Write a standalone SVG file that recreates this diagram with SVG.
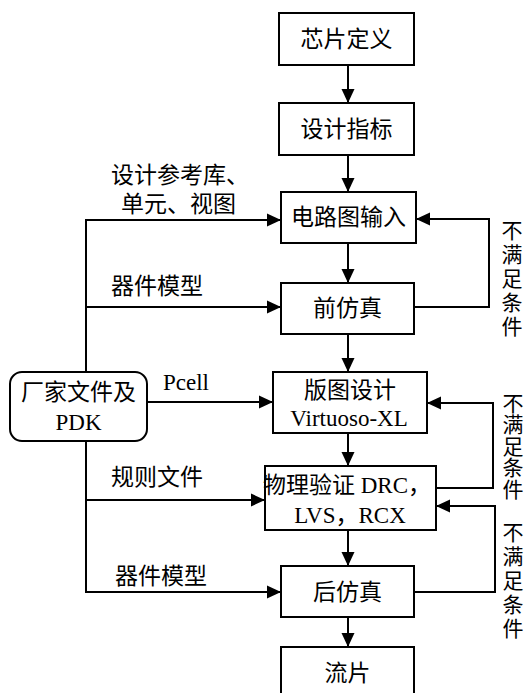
<svg xmlns="http://www.w3.org/2000/svg" width="529" height="693" viewBox="0 0 529 693">
<style>
.box{fill:#fff;stroke:#000;stroke-width:2}
.t{font-family:"Liberation Serif","Noto Sans CJK SC",serif;font-size:23px;fill:#000;text-anchor:middle;dominant-baseline:central}
.l{font-family:"Liberation Serif","Noto Sans CJK SC",serif;font-size:23px;fill:#000;dominant-baseline:central}
.v{font-family:"Noto Sans CJK SC",sans-serif;font-size:21px;fill:#000;writing-mode:vertical-rl;text-orientation:upright}
.c{fill:none;stroke:#000;stroke-width:2}
</style>
<defs>
<marker id="ah" markerUnits="userSpaceOnUse" markerWidth="14" markerHeight="14" viewBox="0 0 14 14" refX="14" refY="7" orient="auto">
<path d="M0,0.5 L14,7 L0,13.5 Z" fill="#000"/>
</marker>
</defs>
<rect width="529" height="693" fill="#fff"/>
<g id="connectors">
<line class="c" x1="348" y1="65" x2="348" y2="103" marker-end="url(#ah)"/>
<line class="c" x1="348" y1="155" x2="348" y2="192" marker-end="url(#ah)"/>
<line class="c" x1="348" y1="243" x2="348" y2="283" marker-end="url(#ah)"/>
<line class="c" x1="348" y1="334" x2="348" y2="372" marker-end="url(#ah)"/>
<line class="c" x1="348" y1="433" x2="348" y2="466" marker-end="url(#ah)"/>
<line class="c" x1="348" y1="530" x2="348" y2="566" marker-end="url(#ah)"/>
<line class="c" x1="348" y1="617" x2="348" y2="647" marker-end="url(#ah)"/>
<polyline class="c" points="86,372 86,220 281,220" marker-end="url(#ah)"/>
<line class="c" x1="86" y1="307" x2="281" y2="307" marker-end="url(#ah)"/>
<line class="c" x1="147" y1="402" x2="273" y2="402" marker-end="url(#ah)"/>
<polyline class="c" points="86,441 86,592 281,592" marker-end="url(#ah)"/>
<line class="c" x1="86" y1="500" x2="265" y2="500" marker-end="url(#ah)"/>
<polyline class="c" points="414,307 489,307 489,219 416,219" marker-end="url(#ah)"/>
<polyline class="c" points="436,488 493,488 493,403 427,403" marker-end="url(#ah)"/>
<polyline class="c" points="414,592 495,592 495,506 436,506" marker-end="url(#ah)"/>
<text class="l" x="111" y="175">设计参考库、</text>
<text class="l" x="121" y="204">单元、视图</text>
<text class="l" x="111" y="286">器件模型</text>
<text class="l" x="163" y="382">Pcell</text>
<text class="l" x="111" y="477">规则文件</text>
<text class="l" x="115" y="576">器件模型</text>
<text class="v" x="512" y="219.5" letter-spacing="3">不满足条件</text>
<text class="v" x="513" y="392.5" letter-spacing="0.4">不满足条件</text>
<text class="v" x="513" y="521.5" letter-spacing="3">不满足条件</text>
</g>
<g id="n1"><rect class="box" x="279" y="13" width="135" height="52"/><text class="t" x="346.5" y="39">芯片定义</text></g>
<g id="n2"><rect class="box" x="279" y="103" width="135" height="52"/><text class="t" x="346.5" y="129">设计指标</text></g>
<g id="n3"><rect class="box" x="281" y="192" width="135" height="51"/><text class="t" x="348.5" y="217">电路图输入</text></g>
<g id="n4"><rect class="box" x="281" y="283" width="133" height="51"/><text class="t" x="347.5" y="308">前仿真</text></g>
<g id="n5"><rect class="box" x="273" y="372" width="154" height="61"/><text class="t" x="350" y="390">版图设计</text><text class="t" x="349" y="418">Virtuoso-XL</text></g>
<g id="n6"><rect class="box" x="265" y="466" width="171" height="64"/><text class="t" x="347" y="485">物理验证 DRC，</text><text class="t" x="350" y="515">LVS，RCX</text></g>
<g id="n7"><rect class="box" x="281" y="566" width="133" height="51"/><text class="t" x="347.5" y="592">后仿真</text></g>
<g id="n8"><rect class="box" x="281" y="647" width="133" height="60"/><text class="t" x="347.5" y="673">流片</text></g>
<g id="pdk"><rect class="box" x="10" y="372" width="137" height="69" rx="12"/><text class="t" x="78.5" y="392">厂家文件及</text><text class="t" x="78.5" y="422">PDK</text></g>
</svg>
